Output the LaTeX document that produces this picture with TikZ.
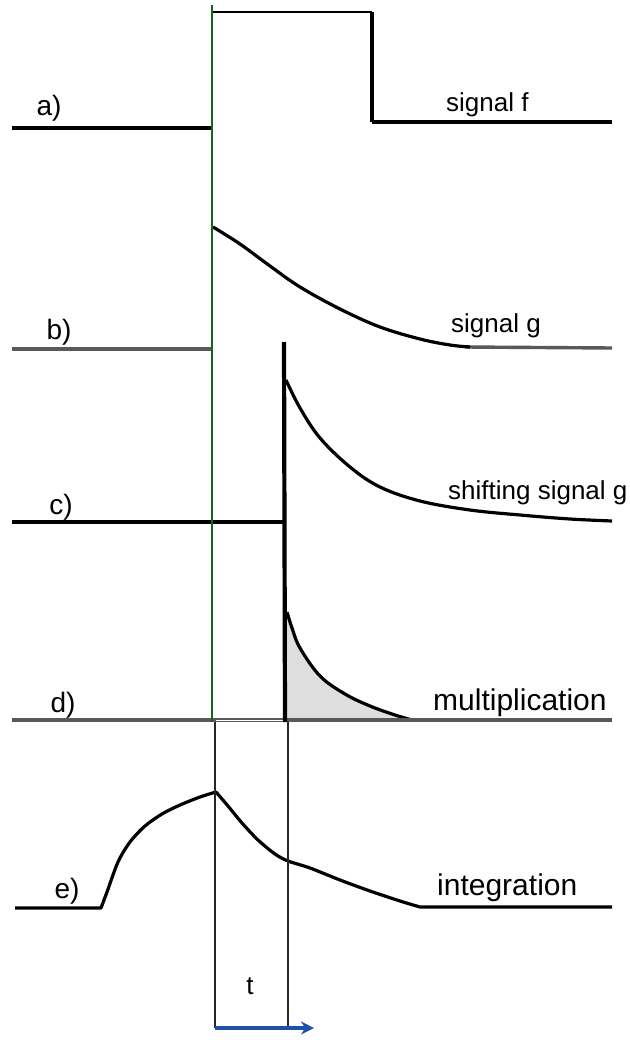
\documentclass[tikz,border=0pt]{standalone}
\usepackage{fontspec}
\setmainfont{Liberation Sans}
\usetikzlibrary{arrows.meta}
\definecolor{lgreen}{RGB}{20,100,30}
\definecolor{arrowblue}{RGB}{30,80,170}
\definecolor{fillgray}{RGB}{222,222,222}
\tikzset{
  base/.style={line width=3.4pt, black},
  basegray/.style={line width=3.4pt, black!65},
  vertthick/.style={line width=4.2pt, black},
  sig/.style={line width=3.2pt, black, line join=round},
  thinbox/.style={line width=1.4pt, black!85},
  greenline/.style={line width=1.7pt, lgreen},
  lab/.style={font=\fontsize{28}{28}\selectfont, inner sep=0pt, anchor=base},
  siglab/.style={font=\fontsize{#1}{#1}\selectfont, inner sep=0pt, anchor=base west},
}
\begin{document}
\begin{tikzpicture}[x=1pt,y=-1pt]
\useasboundingbox (0,0) rectangle (629,1040);
\fill[white] (0,0) rectangle (629,1040);

% ---------- a) signal f
\coordinate (a0) at (12,128);
\coordinate (a1) at (212,128);
\coordinate (a2) at (212,12);
\coordinate (a3) at (372,12);
\coordinate (a4) at (372,122);
\coordinate (a5) at (612,122);
\draw[base] (a0) -- (a1);
\draw[line width=1.6pt] (a2) -- (a3);
\draw[vertthick] (a3) -- (a4);
\draw[base] (a4) -- (a5);
\node[lab] (la) at (49,116) {a)};
\node[siglab=26] (nf) at (446,112) {signal f};

% ---------- b) signal g
\coordinate (b0) at (12,349);
\coordinate (b1) at (212,349);
\coordinate (b2) at (212,226);
\draw[basegray] (b0) -- (b1);
\draw[basegray] (465,347) -- (612,348);
\draw[sig] plot[smooth, tension=0.6] coordinates {(213,227) (240,244) (270,266) (300,287) (340,309) (380,327) (420,339) (450,345) (470,347)};
\node[lab] (lb) at (59,339) {b)};
\node[siglab=26] (ng) at (451,332) {signal g};

% ---------- c) shifting signal g
\coordinate (c0) at (12,522);
\coordinate (c1) at (284,522);
\coordinate (c2) at (284,342);
\draw[base] (c0) -- (c1);
\draw[sig] plot[smooth, tension=0.6] coordinates {(286,380) (300,408) (320,438) (350,467) (380,487) (420,501) (470,510) (520,515) (570,519) (612,521)};
\node[lab] (lc) at (61,514) {c)};
\node[siglab=26] (nsg) at (448,499) {shifting signal g};

% ---------- d) multiplication
\fill[fillgray] (287,720) -- plot[smooth, tension=0.6] coordinates {(287,612) (292,628) (300,648) (320,676) (345,694) (370,706) (395,715) (412,720)} -- cycle;
\draw[sig] plot[smooth, tension=0.6] coordinates {(287,612) (292,628) (300,648) (320,676) (345,694) (370,706) (395,715) (412,720)};
\coordinate (d0) at (12,720);
\coordinate (d1) at (612,720);
\draw[basegray] (d0) -- (d1);
\draw[line width=0.7pt, white] (216,720) -- (286,720);
\coordinate (d2) at (285,722);
\draw[vertthick] (c2) -- (d2);
\node[lab] (ld) at (63,712) {d)};
\node[siglab=30] (nm) at (433,710) {multiplication};

% ---------- green reference line
\coordinate (g0) at (212,5);
\coordinate (g1) at (212,722);
\draw[greenline] (g0) -- (g1);

% ---------- e) integration
\coordinate (e0) at (15,908);
\coordinate (e1) at (101,908);
\coordinate (epk) at (216,792);
\draw[sig] (e0) -- (e1) -- plot[smooth, tension=0.5] coordinates {(101,908) (107,892) (118,862) (130,842) (145,826) (162,814) (180,805) (200,797) (216,792)}
  -- plot[smooth, tension=0.5] coordinates {(216,792) (228,806) (242,823) (258,840) (275,854) (288,861) (310,868) (340,880) (370,891) (400,901) (420,907)} -- (612,907);
\node[lab] (le) at (67,898) {e)};
\node[siglab=30] (ni) at (437,895) {integration};

% ---------- time box
\coordinate (t0) at (215,722);
\coordinate (t1) at (215,1028);
\coordinate (t2) at (288,722);
\coordinate (t3) at (288,1028);
\draw[thinbox] (t0) -- (t1);
\draw[thinbox] (t2) -- (t3);
\node[lab, font=\fontsize{26}{26}\selectfont] (lt) at (250,994) {t};
\coordinate (ar) at (314,1028);
\draw[line width=3.2pt, arrowblue, -{Stealth[length=13pt,width=13pt]}] (t1) -- (ar);
\end{tikzpicture}
\end{document}
